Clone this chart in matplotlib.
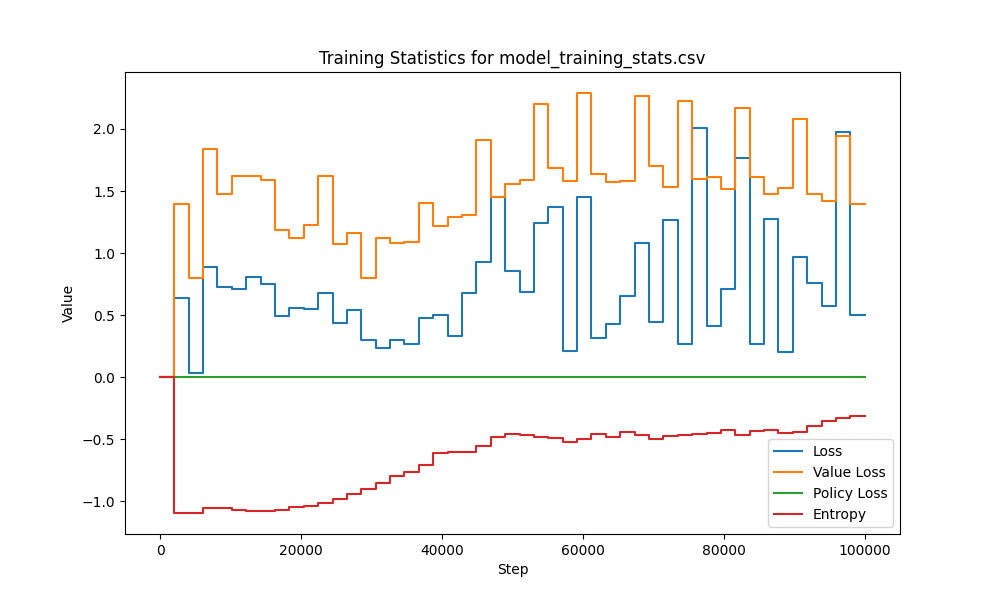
import numpy as np
import matplotlib
matplotlib.use("Agg")
import matplotlib.pyplot as plt

loss = [0.64,0.03,0.89,0.73,0.71,0.81,0.75,0.49,0.56,0.55,0.68,0.44,0.54,0.30,0.235,0.30,0.27,0.48,0.50,0.335,0.68,0.925,1.45,
        0.857,0.69,1.24,1.37,0.21,1.45,0.32,0.425,0.653,1.083,0.446,1.266,0.264,2.01,0.41,0.707,1.77,0.27,1.274,0.204,0.97,0.763,0.575,1.973,0.50]
value_loss = [1.395,0.80,1.84,1.475,1.62,1.62,1.59,1.185,1.125,1.225,1.62,1.07,1.165,0.80,1.12,1.08,1.09,1.405,1.215,1.29,1.31,1.915,1.455,
              1.556,1.59,2.205,1.685,1.578,2.29,1.637,1.575,1.58,2.266,1.70,1.535,2.226,1.60,1.613,1.52,2.17,1.613,1.473,1.524,2.08,1.48,1.42,1.946,1.395]
entropy = [-1.094,-1.09,-1.054,-1.056,-1.07,-1.075,-1.075,-1.066,-1.046,-1.04,-1.013,-0.98,-0.94,-0.90,-0.852,-0.793,-0.766,-0.705,-0.61,-0.605,-0.60,-0.554,-0.48,
           -0.46,-0.465,-0.478,-0.486,-0.524,-0.50,-0.46,-0.48,-0.443,-0.463,-0.497,-0.47,-0.465,-0.454,-0.446,-0.427,-0.463,-0.433,-0.422,-0.449,-0.44,-0.395,-0.352,-0.33,-0.314]
n = len(loss)
steps = np.concatenate([[0], np.linspace(2000, 100000, n + 1)])

def full(vals):
    return np.concatenate([[0], vals, [vals[-1]]])

policy = np.zeros(n)

fig, ax = plt.subplots(figsize=(10, 6), dpi=100)
ax.plot(steps, full(loss), drawstyle="steps-post", label="Loss")
ax.plot(steps, full(value_loss), drawstyle="steps-post", label="Value Loss")
ax.plot(steps, full(policy), drawstyle="steps-post", label="Policy Loss")
ax.plot(steps, full(entropy), drawstyle="steps-post", label="Entropy")
ax.set_title("Training Statistics for model_training_stats.csv")
ax.set_xlabel("Step")
ax.set_ylabel("Value")
ax.legend(loc="lower right")
fig.savefig("out.png")
